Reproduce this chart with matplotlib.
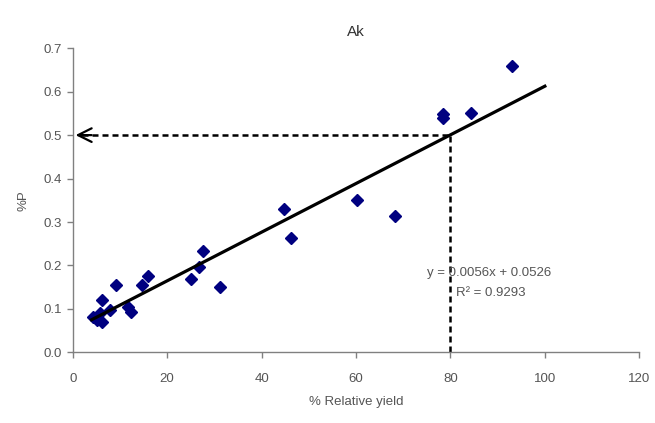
"""
Recreate the 'Ak' scatter of %P against % relative yield with its fitted line.
"""

import numpy as np
import matplotlib
matplotlib.use("Agg")
import matplotlib.pyplot as plt

plt.rcParams['font.family'] = ['Liberation Sans', 'DejaVu Sans']

# data
relative_yield = [93.0, 78.4, 78.4, 84.4, 60.2, 68.3, 44.8, 46.2, 27.7, 26.8,
                  25.0, 31.1, 15.9, 14.6, 9.1, 6.1, 11.8, 12.4, 7.9, 4.4,
                  5.1, 6.1, 5.8]
percent_p = [0.658, 0.540, 0.548, 0.551, 0.350, 0.314, 0.331, 0.263, 0.234, 0.197,
             0.169, 0.150, 0.176, 0.155, 0.155, 0.120, 0.105, 0.092, 0.097, 0.082,
             0.074, 0.071, 0.090]

slope = 0.0056
intercept = 0.0526
r_squared = 0.9293
fit_range = [4, 100]
critical_yield = 80
critical_p = 0.5

x_ticks = [0, 20, 40, 60, 80, 100, 120]
y_ticks = [0.0, 0.1, 0.2, 0.3, 0.4, 0.5, 0.6, 0.7]

axis_grey = '#808080'
text_grey = '#555555'
dash = (0, (2.4, 1.6))

fig = plt.figure(figsize=(6.55, 4.23), dpi=100)
ax = fig.add_axes([0.111, 0.167, 0.865, 0.719])

# points
ax.plot(relative_yield, percent_p, linestyle='none', marker='D',
        markersize=6, color='#000080', zorder=3)

# trend line
fx = np.array(fit_range)
ax.plot(fx, slope * fx + intercept, color='black', linewidth=2.3, zorder=4)

# dashed guides at the critical level
ax.plot([critical_yield, critical_yield], [0, critical_p], color='black',
        linestyle=dash, linewidth=1.8, zorder=2)
ax.plot([2.0, critical_yield], [critical_p, critical_p], color='black',
        linestyle=dash, linewidth=1.8, zorder=2)
ax.annotate('', xy=(0.6, critical_p), xytext=(4.0, critical_p),
            arrowprops=dict(arrowstyle='->, head_length=0.7, head_width=0.35',
                            color='black', linewidth=1.6,
                            mutation_scale=14, shrinkA=0, shrinkB=0),
            zorder=2)

ax.text(88.2, 0.183, f'y = {slope}x + {intercept}', ha='center', va='center',
        fontsize=9.5, color=text_grey)
ax.text(88.5, 0.137, f'R² = {r_squared}', ha='center', va='center',
        fontsize=9.5, color=text_grey)

ax.set_xlim(0, 120)
ax.set_ylim(0, 0.7)
ax.set_xticks(x_ticks)
ax.set_yticks(y_ticks)
ax.set_yticklabels([f'{v:.1f}' for v in y_ticks])

for side in ['top', 'right']:
    ax.spines[side].set_visible(False)
for side in ['left', 'bottom']:
    ax.spines[side].set_color(axis_grey)
    ax.spines[side].set_linewidth(1.0)

ax.tick_params(axis='both', direction='out', length=4, width=1.0,
               color=axis_grey, labelcolor=text_grey, labelsize=9.5)
ax.tick_params(axis='x', pad=11)

ax.set_title('Ak', fontsize=11, color='#333333', pad=9)
ax.set_xlabel('% Relative yield', fontsize=9.5, color=text_grey, labelpad=8)
ax.set_ylabel('%P', fontsize=9.5, color=text_grey, labelpad=10)

fig.savefig('out.png', dpi=100)
